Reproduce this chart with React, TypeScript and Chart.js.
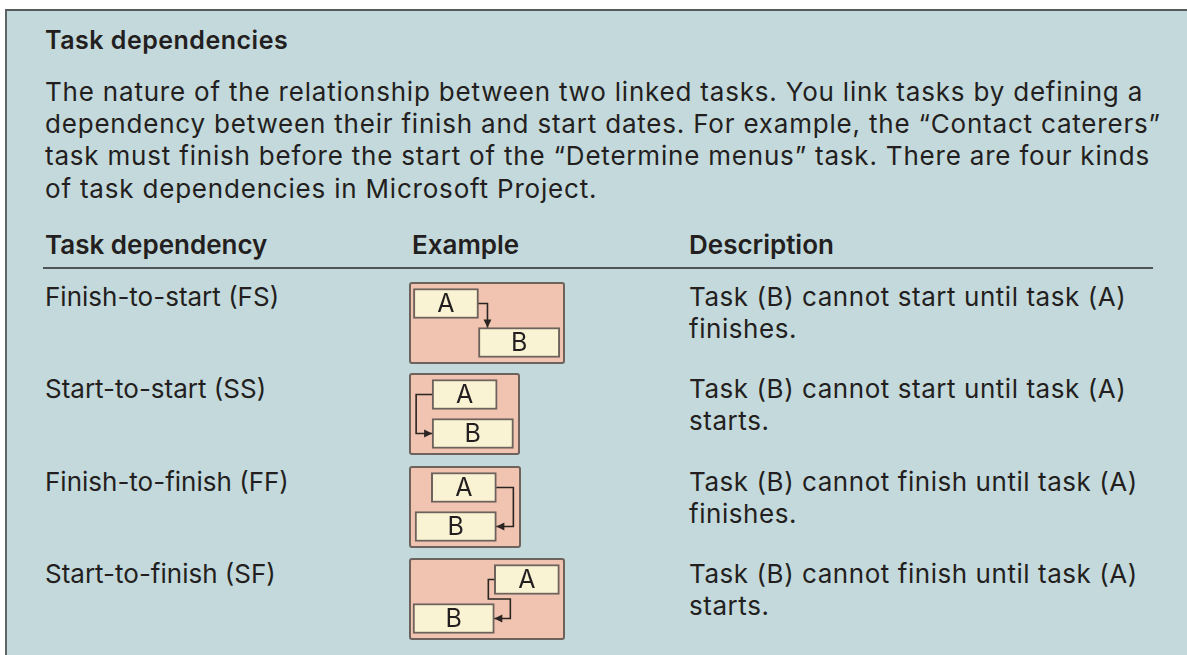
import React, { useEffect, useRef } from "react";
import { Chart, registerables } from "chart.js";

Chart.register(...registerables);

// ---------- Data ----------
const titleText = "Task dependencies";
const paragraphLines = [
  "The nature of the relationship between two linked tasks. You link tasks by defining a",
  "dependency between their finish and start dates. For example, the \u201cContact caterers\u201d",
  "task must finish before the start of the \u201cDetermine menus\u201d task. There are four kinds",
  "of task dependencies in Microsoft Project.",
];
const columnHeaders = ["Task dependency", "Example", "Description"];
const dependencyNames = [
  "Finish-to-start (FS)",
  "Start-to-start (SS)",
  "Finish-to-finish (FF)",
  "Start-to-finish (SF)",
];
const dependencyCodes = ["FS", "SS", "FF", "SF"];
const descriptionLine1 = [
  "Task (B) cannot start until task (A)",
  "Task (B) cannot start until task (A)",
  "Task (B) cannot finish until task (A)",
  "Task (B) cannot finish until task (A)",
];
const descriptionLine2 = ["finishes.", "starts.", "finishes.", "starts."];
const taskLabels = ["A", "B"];
// task bars in time units (start, end)
const taskAStart = [0, 0, 2, 10];
const taskAEnd = [8, 8, 10, 18];
const taskBStart = [8, 0, 0, 0];
const taskBEnd = [18, 10, 10, 10];
// visible time window start of each example
const windowStart = [-0.3, -2.6, -0.5, -0.25];

// ---------- Layout / style ----------
const FONT = "Inter, 'Open Sans', sans-serif";
const TEXT = "#231f20";
const BG = "#c3d9dc";
const BOX_FILL = "#f1c4b1";
const BAR_FILL = "#f9f2d3";
const EDGE = "#6d625c";
const PX_PER_UNIT = 8.13;
const rowCenters = [297, 389, 482, 574];
const boxTops = [282, 373, 466, 558];
const boxWidths = [156, 111, 112, 156];
const BOX_H = 82;
const LEFT_X = 45;
const EXAMPLE_X = 409;
const DESC_X = 689;

const connectorPlugin = {
  id: "connector",
  afterDatasetsDraw(chart: any, _args: any, opts: any) {
    const ctx = chart.ctx;
    const meta = chart.getDatasetMeta(0);
    const a = meta.data[0];
    const b = meta.data[1];
    if (!a || !b) return;
    const aL = Math.min(a.x, a.base), aR = Math.max(a.x, a.base);
    const bL = Math.min(b.x, b.base), bR = Math.max(b.x, b.base);
    const aY = a.y, bY = b.y;
    const hh = a.height / 2;
    const code = opts.code;
    let pts: number[][] = [];
    let dir = "down";
    if (code === "FS") {
      const x = aR + 9;
      pts = [[aR, aY], [x, aY], [x, bY - hh]];
      dir = "down";
    } else if (code === "SS") {
      const x = aL - 16;
      pts = [[aL, aY], [x, aY], [x, bY], [bL, bY]];
      dir = "right";
    } else if (code === "FF") {
      const x = aR + 17;
      pts = [[aR, aY], [x, aY], [x, bY], [bR, bY]];
      dir = "left";
    } else if (code === "SF") {
      const x1 = aL - 6;
      const midY = (aY + hh + bY - hh) / 2;
      const x2 = bR + 16;
      pts = [[aL, aY], [x1, aY], [x1, midY], [x2, midY], [x2, bY], [bR, bY]];
      dir = "left";
    }
    ctx.save();
    ctx.strokeStyle = "#2a2522";
    ctx.fillStyle = "#2a2522";
    ctx.lineWidth = 1.6;
    ctx.beginPath();
    pts.forEach((p, i) => (i === 0 ? ctx.moveTo(p[0], p[1]) : ctx.lineTo(p[0], p[1])));
    ctx.stroke();
    const end = pts[pts.length - 1];
    const L = 8, W = 4;
    ctx.beginPath();
    if (dir === "down") {
      ctx.moveTo(end[0], end[1]);
      ctx.lineTo(end[0] - W, end[1] - L);
      ctx.lineTo(end[0] + W, end[1] - L);
    } else if (dir === "right") {
      ctx.moveTo(end[0], end[1]);
      ctx.lineTo(end[0] - L, end[1] - W);
      ctx.lineTo(end[0] - L, end[1] + W);
    } else {
      ctx.moveTo(end[0], end[1]);
      ctx.lineTo(end[0] + L, end[1] - W);
      ctx.lineTo(end[0] + L, end[1] + W);
    }
    ctx.closePath();
    ctx.fill();
    // task labels
    ctx.font = `25px ${FONT}`;
    ctx.fillStyle = TEXT;
    ctx.textAlign = "center";
    ctx.textBaseline = "middle";
    meta.data.forEach((el: any, i: number) => {
      ctx.fillText(chart.data.labels[i], (el.x + el.base) / 2, el.y + 1);
    });
    ctx.restore();
  },
};

function DependencyExample({ index }: { index: number }) {
  const ref = useRef<HTMLCanvasElement>(null);
  const w = boxWidths[index] - 4;
  const h = BOX_H - 4;
  useEffect(() => {
    if (!ref.current) return;
    const min = windowStart[index];
    const chart = new Chart(ref.current, {
      type: "bar",
      data: {
        labels: taskLabels,
        datasets: [
          {
            data: [
              [taskAStart[index], taskAEnd[index]],
              [taskBStart[index], taskBEnd[index]],
            ] as any,
            backgroundColor: BAR_FILL,
            borderColor: EDGE,
            borderWidth: 2,
            borderSkipped: false,
            barThickness: 30,
          },
        ],
      },
      options: {
        indexAxis: "y",
        animation: false,
        responsive: false,
        devicePixelRatio: 1,
        layout: { padding: 0 },
        scales: {
          x: { type: "linear", min, max: min + w / PX_PER_UNIT, display: false },
          y: { display: false, offset: true },
        },
        plugins: {
          legend: { display: false },
          tooltip: { enabled: false },
          connector: { code: dependencyCodes[index] },
        } as any,
      },
      plugins: [connectorPlugin],
    });
    return () => chart.destroy();
  }, [index]);
  return (
    <div
      style={{
        position: "absolute",
        left: EXAMPLE_X,
        top: boxTops[index],
        width: boxWidths[index],
        height: BOX_H,
        boxSizing: "border-box",
        border: `2px solid ${EDGE}`,
        borderRadius: 3,
        background: BOX_FILL,
      }}
    >
      <canvas ref={ref} width={w} height={h} style={{ display: "block", width: w, height: h }} />
    </div>
  );
}

const textStyle = (
  center: number,
  left: number,
  size: number,
  weight: number,
  spacing: number,
  lh = 30
): React.CSSProperties => ({
  position: "absolute",
  top: center - lh / 2,
  left,
  lineHeight: `${lh}px`,
  fontSize: size,
  fontWeight: weight,
  fontFamily: FONT,
  letterSpacing: spacing,
  color: TEXT,
  whiteSpace: "nowrap",
});

export default function App() {
  return (
    <div style={{ position: "absolute", left: 0, top: 0, width: 1187, height: 655, background: "#ffffff", overflow: "hidden" }}>
      <div
        style={{
          position: "absolute",
          left: 5,
          top: 9,
          width: 1182,
          height: 646,
          background: BG,
          borderTop: "2px solid #555a5b",
          borderLeft: "2px solid #5f6566",
          boxSizing: "border-box",
        }}
      />
      <div style={textStyle(40, LEFT_X, 25, 600, 0.5)}>{titleText}</div>
      <div style={textStyle(92, LEFT_X, 26, 400, 0.8, 32.3)}>
        {paragraphLines.map((line, i) => (
          <React.Fragment key={i}>
            {line}
            {i < paragraphLines.length - 1 ? <br /> : null}
          </React.Fragment>
        ))}
      </div>
      <div style={textStyle(245, LEFT_X, 26, 600, 0)}>{columnHeaders[0]}</div>
      <div style={textStyle(245, 412, 26, 600, 0)}>{columnHeaders[1]}</div>
      <div style={textStyle(245, DESC_X, 26, 600, 0)}>{columnHeaders[2]}</div>
      <div style={{ position: "absolute", left: 43, top: 267, width: 1110, height: 2, background: "#4f5556" }} />
      {dependencyNames.map((name, i) => (
        <React.Fragment key={name}>
          <div style={textStyle(rowCenters[i], LEFT_X, 26, 400, 0)}>{name}</div>
          <div style={textStyle(rowCenters[i], DESC_X, 26, 400, 0.55, 32)}>
            {descriptionLine1[i]}
            <br />
            {descriptionLine2[i]}
          </div>
          <DependencyExample index={i} />
        </React.Fragment>
      ))}
    </div>
  );
}
